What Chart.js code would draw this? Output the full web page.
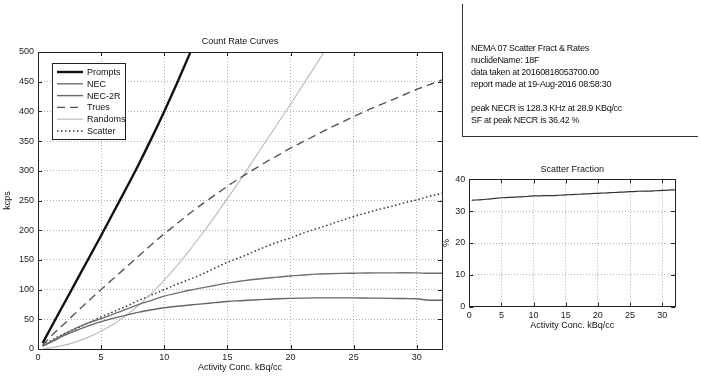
<!DOCTYPE html>
<html>
<head>
<meta charset="utf-8">
<script src="https://cdn.jsdelivr.net/npm/chart.js@4"></script>
<style>
  html, body { margin: 0; padding: 0; background: #fff; }
  body { width: 701px; height: 378px; position: relative; overflow: hidden; font-family: "Liberation Sans", Arial, sans-serif; }
  #rateBox { position: absolute; left: 0; top: 0; width: 460px; height: 378px; }
  #sfBox { position: absolute; left: 430px; top: 155px; width: 271px; height: 190px; }
  #info { position: absolute; left: 462px; top: 4px; width: 235px; height: 132px; border-left: 1px solid #333; border-bottom: 1px solid #333; }
  #info div { position: absolute; left: 8px; font-size: 9px; color: #111; white-space: nowrap; letter-spacing: -0.3px; }
</style>
</head>
<body>
<div id="rateBox"><canvas id="rateChart"></canvas></div>
<div id="sfBox"><canvas id="sfChart"></canvas></div>
<div id="info">
  <div style="top:39px">NEMA 07 Scatter Fract &amp; Rates</div>
  <div style="top:51px">nuclideName: 18F</div>
  <div style="top:63px">data taken at 20160818053700.00</div>
  <div style="top:75px">report made at 19-Aug-2016 08:58:30</div>
  <div style="top:99px">peak NECR is 128.3 KHz at 28.9 KBq/cc</div>
  <div style="top:111px">SF at peak NECR is 36.42 %</div>
</div>
<script>
// activity concentration (kBq/cc) for every sample
const conc = [0.37, 1, 2, 3, 4, 5, 6, 7, 8, 9, 10, 11, 12, 13, 14, 15, 16, 17, 18, 19, 20, 21, 22, 23, 24, 25, 26, 27, 28, 29, 30, 31, 32];

// count rates, kcps (null = off the top of the plot)
const prompts = [10, 35, 74, 113, 152, 191, 231, 271, 312, 355, 400, 447, 496, 546, null, null, null, null, null, null, null, null, null, null, null, null, null, null, null, null, null, null, null];
const nec = [5, 12, 24, 35, 44, 51, 59, 67, 75, 82, 89, 94, 99, 103, 107, 111, 114, 117, 119, 121, 123, 124.5, 126, 126.8, 127.3, 127.6, 127.9, 128.1, 128.2, 128.3, 128.1, 127.4, 127.4];
const nec2r = [5, 11, 22, 31, 39, 46, 52, 57, 62, 66, 69.5, 72, 74, 76, 78, 80, 81.3, 82.5, 83.5, 84.5, 85.3, 85.7, 86, 86.1, 86.1, 86, 85.8, 85.6, 85.3, 84.9, 84.5, 82, 82];
const trues = [6, 21, 41, 61, 81, 100, 119, 138, 157, 176, 194, 211, 228, 244, 259, 274, 288, 301, 314, 326, 338, 349, 360, 371, 381, 391, 401, 410, 419, 428, 437, 445, 453];
const randoms = [0, 2, 6, 12, 20, 30, 42, 57, 74, 94, 116, 140, 166, 194, 223, 253, 284, 316, 348, 380, 412, 445, 478, 512, null, null, null, null, null, null, null, null, null];
const scatter = [6, 14, 25, 34, 44, 54, 63, 72, 82, 91, 100, 109, 117, 126, 136, 146, 154, 163, 172, 180, 187, 195, 202, 209, 216, 223, 229, 235, 240, 246, 251, 257, 262];

// scatter fraction, %
const sf = [33.4, 33.5, 33.6, 33.8, 34.0, 34.2, 34.3, 34.4, 34.5, 34.6, 34.8, 34.8, 34.9, 34.9, 35.0, 35.1, 35.2, 35.3, 35.4, 35.5, 35.6, 35.7, 35.8, 35.9, 36.0, 36.1, 36.2, 36.3, 36.3, 36.4, 36.5, 36.6, 36.7];

// tick values
const xTicks = [0, 5, 10, 15, 20, 25, 30];
const rateTicks = [0, 50, 100, 150, 200, 250, 300, 350, 400, 450, 500];
const sfTicks = [0, 10, 20, 30, 40];

const FONT = '"Liberation Sans", Arial, sans-serif';
Chart.defaults.font.family = FONT;
Chart.defaults.font.size = 9;
Chart.defaults.color = '#222';
Chart.defaults.animation = false;

function points(ys) {
  return conc.map((x, i) => ({ x: x, y: ys[i] }));
}

// matlab style box round the axes with inward tick marks
const framePlugin = {
  id: 'frame',
  afterDraw(chart) {
    const { ctx, chartArea: a, scales } = chart;
    const x = scales.x, y = scales.y;
    ctx.save();
    ctx.strokeStyle = '#222';
    ctx.lineWidth = 1;
    ctx.strokeRect(Math.round(a.left) + 0.5, Math.round(a.top) + 0.5, Math.round(a.right - a.left), Math.round(a.bottom - a.top));
    ctx.beginPath();
    x.ticks.forEach(t => {
      const px = Math.round(x.getPixelForValue(t.value)) + 0.5;
      ctx.moveTo(px, a.bottom); ctx.lineTo(px, a.bottom - 4);
      ctx.moveTo(px, a.top); ctx.lineTo(px, a.top + 4);
    });
    y.ticks.forEach(t => {
      const py = Math.round(y.getPixelForValue(t.value)) + 0.5;
      ctx.moveTo(a.left, py); ctx.lineTo(a.left + 4, py);
      ctx.moveTo(a.right, py); ctx.lineTo(a.right - 4, py);
    });
    ctx.stroke();
    ctx.restore();
  }
};

// legend box in the upper left corner of the count rate plot
const boxLegend = {
  id: 'boxLegend',
  afterDraw(chart) {
    const ctx = chart.ctx;
    const bx = 52, by = 63, bw = 73, bh = 76;
    ctx.save();
    ctx.fillStyle = '#fff';
    ctx.fillRect(bx, by, bw, bh);
    ctx.strokeStyle = '#222';
    ctx.lineWidth = 1;
    ctx.strokeRect(bx + 0.5, by + 0.5, bw, bh);
    ctx.font = '9px ' + FONT;
    ctx.textBaseline = 'middle';
    chart.data.datasets.forEach((ds, i) => {
      const ly = by + 9 + i * 11.8;
      ctx.beginPath();
      ctx.strokeStyle = ds.borderColor;
      ctx.lineWidth = ds.borderWidth;
      ctx.setLineDash(ds.borderDash || []);
      ctx.moveTo(57, ly);
      ctx.lineTo(83, ly);
      ctx.stroke();
      ctx.setLineDash([]);
      ctx.fillStyle = '#111';
      ctx.fillText(ds.label, 87, ly + 0.5);
    });
    ctx.restore();
  }
};

function lineSet(label, ys, color, width, dash) {
  return {
    label: label,
    data: points(ys),
    borderColor: color,
    borderWidth: width,
    borderDash: dash || [],
    pointRadius: 0,
    cubicInterpolationMode: 'monotone',
    fill: false,
    spanGaps: false
  };
}

function gridOpts() {
  return { color: '#9a9a9a', lineWidth: 0.8, drawTicks: false };
}

new Chart(document.getElementById('rateChart'), {
  type: 'line',
  data: {
    datasets: [
      lineSet('Prompts', prompts, '#111', 2.4),
      lineSet('NEC', nec, '#6f6f6f', 1.4),
      lineSet('NEC-2R', nec2r, '#666', 1.4),
      lineSet('Trues', trues, '#555', 1.4, [8, 5]),
      lineSet('Randoms', randoms, '#bdbdbd', 1.2),
      lineSet('Scatter', scatter, '#333', 1.5, [1.5, 2.5])
    ]
  },
  options: {
    responsive: true,
    maintainAspectRatio: false,
    layout: { padding: { left: 0, right: 18, top: 0, bottom: 0 } },
    plugins: {
      legend: { display: false },
      tooltip: { enabled: false },
      title: {
        display: true,
        text: 'Count Rate Curves',
        fullSize: false,
        font: { size: 9, weight: 'normal' },
        color: '#111',
        padding: { top: 36, bottom: 5.2 }
      }
    },
    scales: {
      x: {
        type: 'linear',
        min: 0,
        max: 32,
        afterBuildTicks: s => { s.ticks = xTicks.map(v => ({ value: v })); },
        afterFit: s => { s.height = 29; },
        grid: gridOpts(),
        border: { display: false, dash: [1, 2] },
        ticks: { padding: 3.5, maxRotation: 0, color: '#222' },
        title: { display: true, text: 'Activity Conc. kBq/cc', font: { size: 9 }, color: '#111', padding: { top: 0, bottom: 4.6 } }
      },
      y: {
        min: 0,
        max: 500,
        afterBuildTicks: s => { s.ticks = rateTicks.map(v => ({ value: v })); },
        afterFit: s => { s.width = 38; },
        grid: gridOpts(),
        border: { display: false, dash: [1, 2] },
        ticks: { padding: 4, color: '#222' },
        title: { display: true, text: 'kcps', font: { size: 9 }, color: '#111', padding: { top: 2, bottom: 0 } }
      }
    }
  },
  plugins: [framePlugin, boxLegend]
});

new Chart(document.getElementById('sfChart'), {
  type: 'line',
  data: {
    datasets: [lineSet('Scatter Fraction', sf, '#333', 1.2)]
  },
  options: {
    responsive: true,
    maintainAspectRatio: false,
    layout: { padding: { left: 0, right: 26, top: 0, bottom: 0 } },
    plugins: {
      legend: { display: false },
      tooltip: { enabled: false },
      title: {
        display: true,
        text: 'Scatter Fraction',
        fullSize: false,
        font: { size: 9, weight: 'normal' },
        color: '#111',
        padding: { top: 9, bottom: 4.5 }
      }
    },
    scales: {
      x: {
        type: 'linear',
        min: 0,
        max: 32,
        afterBuildTicks: s => { s.ticks = xTicks.map(v => ({ value: v })); },
        afterFit: s => { s.height = 38.3; },
        grid: gridOpts(),
        border: { display: false, dash: [1, 2] },
        ticks: { padding: 3, maxRotation: 0, color: '#222' },
        title: { display: true, text: 'Activity Conc. kBq/cc', font: { size: 9 }, color: '#111', padding: { top: 0, bottom: 13.6 } }
      },
      y: {
        min: 0,
        max: 40,
        afterBuildTicks: s => { s.ticks = sfTicks.map(v => ({ value: v })); },
        afterFit: s => { s.width = 39.3; },
        grid: gridOpts(),
        border: { display: false, dash: [1, 2] },
        ticks: { padding: 4, color: '#222' },
        title: { display: true, text: '%', font: { size: 9 }, color: '#111', padding: { top: 11.6, bottom: 0 } }
      }
    }
  },
  plugins: [framePlugin]
});
</script>
</body>
</html>
